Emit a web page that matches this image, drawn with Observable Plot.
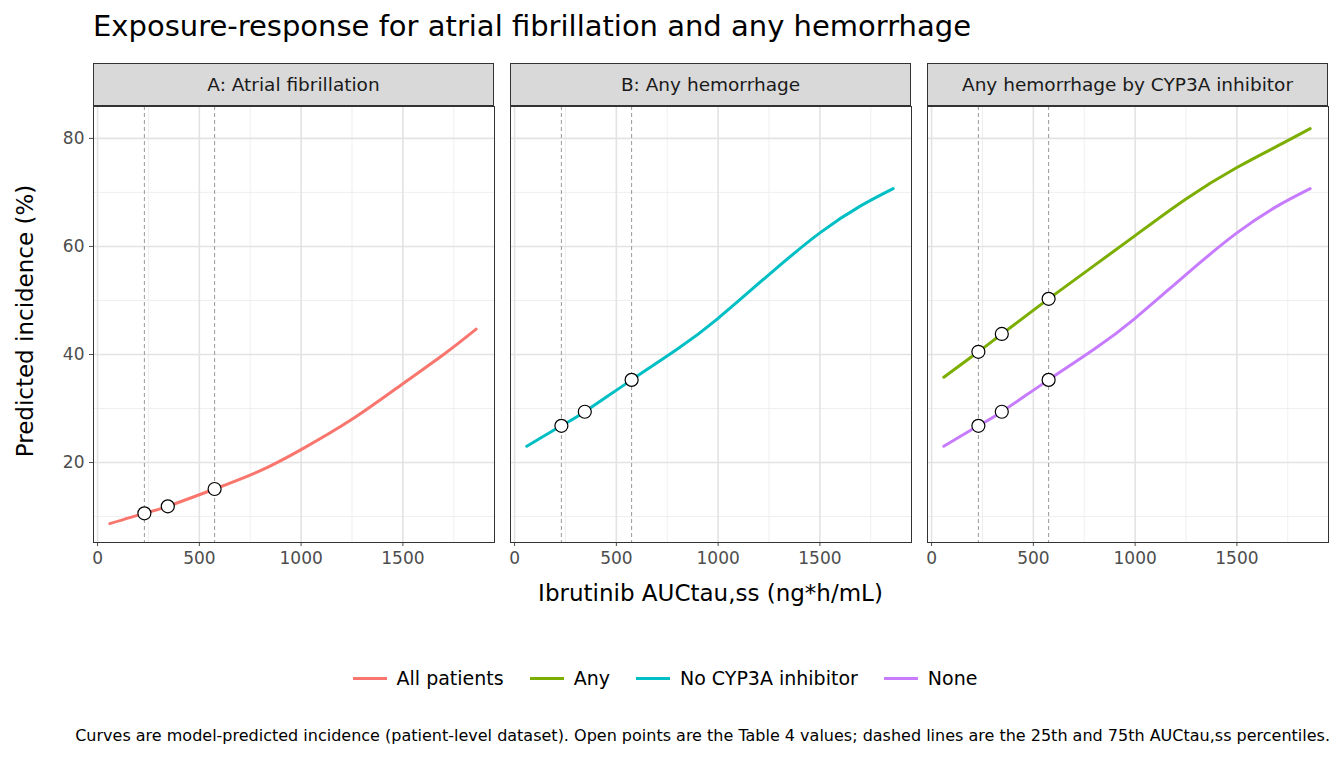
<!DOCTYPE html>
<html><head><meta charset="utf-8">
<script src="https://cdn.jsdelivr.net/npm/d3@7"></script>
<script src="https://cdn.jsdelivr.net/npm/@observablehq/plot@0.6"></script>
<style>
body{margin:0;width:1344px;height:768px;position:relative;overflow:hidden;font-family:"DejaVu Sans",sans-serif;background:#fff}
.abs{position:absolute}
.strip{position:absolute;top:63px;height:43px;background:#d9d9d9;border:1px solid #333;display:flex;justify-content:center;align-items:center;font-size:18.5px;color:#1a1a1a;overflow:hidden;white-space:nowrap;box-sizing:border-box}
</style></head><body>
<div class="abs" style="left:93px;top:9px;font-size:29px;color:#000">Exposure-response for atrial fibrillation and any hemorrhage</div>
<div class="abs" style="left:-185px;top:308px;width:420px;text-align:center;transform:rotate(-90deg);font-size:23px">Predicted incidence (%)</div>
<div class="abs" style="left:93px;width:1235px;top:580px;text-align:center;font-size:23px">Ibrutinib AUCtau,ss (ng*h/mL)</div>
<div id="legend" class="abs" style="left:0;width:1344px;top:667px;display:flex;justify-content:center;font-size:19px"></div>
<div class="abs" style="right:14px;top:726px;white-space:nowrap;font-size:16px">Curves are model-predicted incidence (patient-level dataset). Open points are the Table 4 values; dashed lines are the 25th and 75th AUCtau,ss percentiles.</div>
<div id="charts"></div>
<script>
const auc = [60,230,345,575,800,1000,1250,1500,1700,1860];
const afib = [8.7,10.6,11.9,15.1,18.5,22.4,28,34.6,40,44.7];
const hemNone = [23,26.8,29.4,35.3,41,46.7,54.8,62.5,67.5,70.7];
const hemAny = [35.8,40.5,43.8,50.3,56.5,62,68.8,74.6,78.6,81.8];
const ptIdx = [1,2,3];
const pctl = [230,575];
const series = ["All patients","Any","No CYP3A inhibitor","None"];
const colors = ["#F8766D","#7CAE00","#00BFC4","#C77CFF"];
const strips = ["A: Atrial fibrillation","B: Any hemorrhage","Any hemorrhage by CYP3A inhibitor"];

const mk = (name, vals) => auc.map((x,i)=>({x, y:vals[i], s:name}));
const panels = [
  [mk("All patients", afib)],
  [mk("No CYP3A inhibitor", hemNone)],
  [mk("Any", hemAny), mk("None", hemNone)]
];
const lefts = [93,510,927], pw = 401;
const charts = document.getElementById("charts");
panels.forEach((lines, k) => {
  const first = k===0;
  const ml = first ? 93 : 0;
  const data = lines.flat();
  const pts = lines.flatMap(l => ptIdx.map(i => l[i]));
  const p = Plot.plot({
    width: pw + ml, height: 466, marginLeft: ml, marginRight: 0, marginTop: 0, marginBottom: 30,
    style:{fontFamily:"DejaVu Sans", fontSize:"17px", color:"#4d4d4d", overflow:"visible"},
    x:{domain:[-20,1950], ticks:[0,500,1000,1500], tickFormat:d=>String(d), tickSize:4, label:null},
    y:{domain:[5.2,85.9], ticks:[20,40,60,80], tickSize:4, label:null, axis: first ? "left" : null},
    color:{domain:series, range:colors},
    marks:[
      Plot.ruleX([250,750,1250,1750],{stroke:"#ebebeb",strokeWidth:0.8}),
      Plot.ruleY([10,30,50,70],{stroke:"#ebebeb",strokeWidth:0.8}),
      Plot.ruleX([0,500,1000,1500],{stroke:"#e3e3e3",strokeWidth:1.6}),
      Plot.ruleY([20,40,60,80],{stroke:"#e3e3e3",strokeWidth:1.6}),
      Plot.ruleX(pctl,{stroke:"#999",strokeDasharray:"4,3",strokeWidth:1}),
      Plot.line(data,{x:"x",y:"y",z:"s",stroke:"s",curve:"natural",strokeWidth:3}),
      Plot.dot(pts,{x:"x",y:"y",r:6.5,fill:"white",stroke:"black",strokeWidth:1.2}),
      Plot.frame({stroke:"#333"})
    ]
  });
  p.style.position="absolute"; p.style.left=(lefts[k]-ml)+"px"; p.style.top="106px";
  charts.appendChild(p);
  const s=document.createElement("div"); s.className="strip";
  s.style.left=lefts[k]+"px"; s.style.width=pw+"px"; s.textContent=strips[k];
  document.body.appendChild(s);
});
const lg=document.getElementById("legend");
series.forEach((n,i)=>{
  const d=document.createElement("div"); d.style.display="flex"; d.style.alignItems="center"; d.style.marginRight="20px";
  d.innerHTML=`<span style="display:inline-block;width:34px;height:3px;background:${colors[i]};margin:0 10px 0 6px"></span>${n}`;
  lg.appendChild(d);
});
</script>
</body></html>
